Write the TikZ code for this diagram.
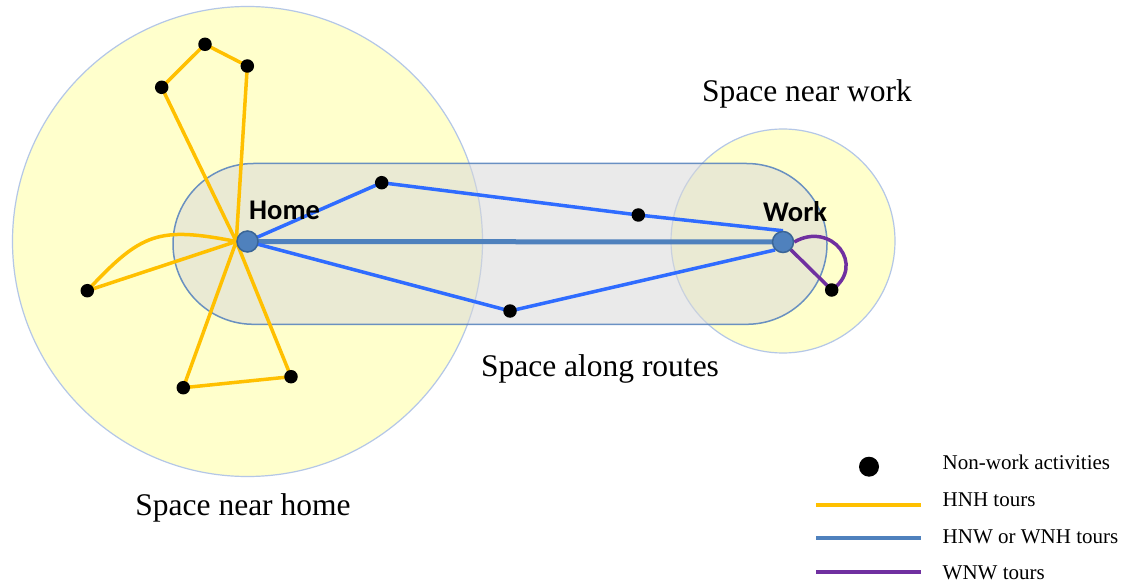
\documentclass[tikz,border=0pt]{standalone}
\usepackage{fontspec}
\setmainfont{Liberation Serif}
\newfontfamily\placesans{Carlito}

\definecolor{zoneyellow}{HTML}{FFFFCC}
\definecolor{zoneedge}{HTML}{B4C7E7}
\definecolor{routefill}{RGB}{217,217,217}
\definecolor{routeedge}{HTML}{5B86BF}
\definecolor{hnhyellow}{HTML}{FFC000}
\definecolor{commuteblue}{HTML}{4F81BD}
\definecolor{tripblue}{HTML}{2F6CFF}
\definecolor{wnwpurple}{HTML}{7030A0}
\definecolor{anchorfill}{HTML}{4F81BD}
\definecolor{anchoredge}{HTML}{3A6596}

\pgfdeclarelayer{zones}
\pgfdeclarelayer{tours}
\pgfsetlayers{zones,tours,main}

\tikzset{
  zone/.style={draw=zoneedge, line width=1.2pt, fill=zoneyellow},
  corridor/.style={draw=routeedge, draw opacity=0.9, line width=1.5pt,
    fill=routefill, fill opacity=0.55, rounded corners=80.4pt},
  activity/.style={circle, fill=black, inner sep=0pt, minimum size=13.5pt},
  legenddot/.style={circle, fill=black, inner sep=0pt, minimum size=20pt},
  anchorpt/.style={circle, fill=anchorfill, draw=anchoredge, line width=1.5pt,
    inner sep=0pt, minimum size=21pt},
  hnh/.style={draw=hnhyellow, line width=3.5pt, line join=round},
  hnw/.style={draw=tripblue, line width=3.5pt, line join=round},
  commute/.style={draw=commuteblue, line width=5pt},
  wnw/.style={draw=wnwpurple, line width=3.5pt, line join=round},
  keyline/.style={line width=4pt},
  zonelabel/.style={font=\fontsize{31.5}{36}\selectfont, inner sep=0pt, anchor=base},
  placelabel/.style={font=\placesans\bfseries\fontsize{28.5}{32}\selectfont,
    inner sep=0pt, anchor=base west},
  legendtext/.style={font=\fontsize{21}{24}\selectfont, inner sep=0pt, anchor=base west}
}

\begin{document}
\begin{tikzpicture}[x=1pt,y=1pt]
\useasboundingbox (0,0) rectangle (1129,-585);

% anchors of the daily schedule
\node[anchorpt] (home) at (247.5,-241.5) {};
\node[anchorpt] (work) at (783,-242) {};

% non-work activities
\node[activity] (a1) at (161.7,-87.3) {};
\node[activity] (a2) at (205,-44.3) {};
\node[activity] (a3) at (247.3,-66) {};
\node[activity] (a4) at (87.3,-290.7) {};
\node[activity] (a5) at (183.3,-387.7) {};
\node[activity] (a6) at (291,-376.7) {};
\node[activity] (a7) at (381.7,-182.7) {};
\node[activity] (a8) at (638.3,-215) {};
\node[activity] (a9) at (510,-311) {};
\node[activity] (a10) at (831.7,-290) {};

% place names
\node[placelabel] (homelabel) at (249,-220) {Home};
\node[placelabel] (worklabel) at (763,-221.7) {Work};

% zone names
\node[zonelabel] (nearwork) at (807,-101.7) {Space near work};
\node[zonelabel] (alongroutes) at (600,-376.7) {Space along routes};
\node[zonelabel] (nearhome) at (243,-515) {Space near home};

% legend
\node[legenddot] (keydot) at (869,-466.7) {};
\node[legendtext] (keyact) at (942.5,-469.3) {Non-work activities};
\node[legendtext] (keyhnh) at (942.5,-506.5) {HNH tours};
\node[legendtext] (keyhnw) at (942.5,-543.5) {HNW or WNH tours};
\node[legendtext] (keywnw) at (942.5,-579.3) {WNW tours};
\coordinate (hnhA) at (816,-505);   \coordinate (hnhB) at (921,-505);
\coordinate (hnwA) at (816,-537.7); \coordinate (hnwB) at (921,-537.7);
\coordinate (wnwA) at (816,-572);   \coordinate (wnwB) at (921,-572);

\begin{pgfonlayer}{zones}
  \fill[white] (0,0) rectangle (1129,-585);
  \draw[zone] (home.center) circle[radius=235];
  \draw[zone] (783,-241) circle[radius=112];
  \draw[corridor] (173,-163.5) rectangle (827,-324.3);
\end{pgfonlayer}

\begin{pgfonlayer}{tours}
  % home-based tours (HNH)
  \draw[hnh] (home.west) -- (a1.center) -- (a2.center) -- (a3.center) -- (home.west);
  \draw[hnh] (home.west) -- (a5.center) -- (a6.center) -- (home.west);
  \draw[hnh] (home.west) -- (a4.center);
  \draw[hnh] (home.west) to[out=169, in=47, looseness=1.3] (a4.center);
  % direct commute
  \draw[commute] (home.center) -- (work.center);
  % commute with stops (HNW / WNH)
  \draw[hnw] (home.center) -- (a7.center) -- (a8.center) -- (work.north);
  \draw[hnw] (home.center) -- (a9.center) -- (work.south west);
  % work-based tours (WNW)
  \draw[wnw] (work.center) -- (a10.center);
  \draw[wnw] (work.east) to[out=30, in=35, looseness=1.8] (a10.center);
  % legend lines
  \draw[keyline, hnhyellow] (hnhA) -- (hnhB);
  \draw[keyline, commuteblue] (hnwA) -- (hnwB);
  \draw[keyline, wnwpurple] (wnwA) -- (wnwB);
\end{pgfonlayer}
\end{tikzpicture}
\end{document}
